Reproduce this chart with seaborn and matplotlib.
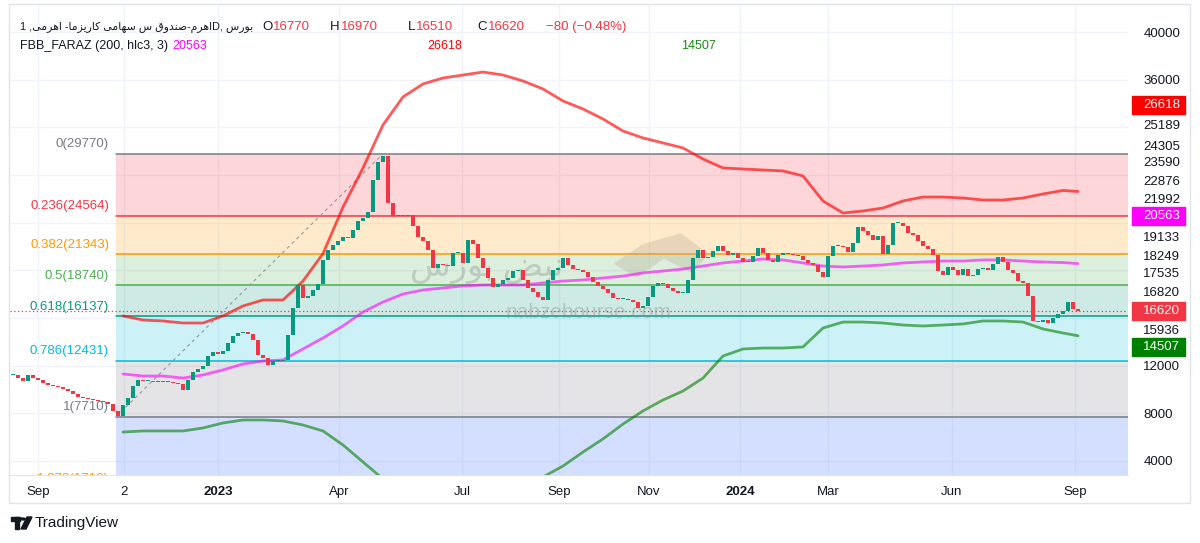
"""
Daily candles of the leveraged fund with a fibonacci retracement and the
FBB_FARAZ (200, hlc3, 3) bands, TradingView style.
"""
import matplotlib
matplotlib.use('Agg')
import matplotlib.pyplot as plt
import matplotlib.transforms as mtransforms
from matplotlib.patches import Rectangle, Polygon, Circle
import numpy as np
import pandas as pd
import seaborn as sns

# daily closes, one per bar
closes = [
    11220, 10960, 10710, 11220, 10960, 10800, 10550, 10380, 10290, 10210,
    10040, 9870, 9620, 9370, 9290, 9200, 9120, 9030, 8950, 8780,
    8200, 7760, 8700, 9290, 10290, 10800, 10710, 10710, 10630, 10710,
    10630, 10630, 10550, 10460, 9960, 10800, 11470, 11720, 11970, 12810,
    13150, 12980, 13230, 13900, 14490, 14740, 14830, 14660, 14150, 12890,
    12640, 12060, 12390, 12390, 12480, 14570, 16840, 18770, 17680, 17850,
    18350, 18850, 20870, 21710, 22130, 22460, 22800, 22710, 23380, 24140,
    24390, 24900, 27580, 29090, 29600, 25650, 24560, 24560, 24560, 24640,
    23720, 22800, 22460, 21710, 20200, 20530, 20450, 20360, 21450, 21450,
    20620, 22550, 22210, 21040, 20200, 19360, 18600, 18850, 19190, 19360,
    19940, 20030, 19190, 18520, 18180, 17760, 17510, 19190, 20030, 20200,
    21040, 20450, 20110, 20030, 19860, 19440, 19020, 18690, 18430, 18100,
    17680, 17590, 17590, 17510, 17340, 16840, 17010, 17760, 18690, 18940,
    18850, 18520, 18270, 18100, 18100, 19190, 21040, 21710, 21040, 21120,
    21620, 22040, 21620, 21290, 21450, 21040, 20700, 20700, 21200, 21870,
    21450, 20870, 20700, 21290, 21450, 21370, 21290, 21200, 20870, 20620,
    20450, 19860, 19440, 21200, 22040, 22040, 21960, 21540, 22290, 23640,
    23300, 22970, 22550, 22880, 21370, 22130, 23970, 23970, 23720, 23130,
    22970, 22460, 22040, 21790, 21290, 19940, 19610, 20280, 20030, 19610,
    20110, 19520, 19610, 20110, 20200, 20030, 20530, 21120, 20700, 20030,
    19780, 19100, 18940, 17850, 15750, 15660, 15830, 15580, 16000, 16340,
    16590, 17340, 16770, 16620,
]

# FBB_FARAZ bands, every 4th bar from bar 22 plus the last bar
band_bars = list(range(22, 211, 4)) + [213]
upper = [16170, 15830, 15750, 15580, 15580, 16170, 17010, 17510, 17510, 19100,
         21400, 25310, 28590, 32200, 34550, 35640, 36140, 36390, 36640, 36390,
         35890, 35220, 34210, 33540, 32700, 31690, 31110, 30690, 30270, 29340,
         28590, 28500, 28420, 28340, 27920, 25820, 24810, 24980, 25230, 25820,
         26150, 26150, 26070, 25900, 25900, 26070, 26410, 26700, 26618]
middle = [11300, 11130, 11130, 10960, 11220, 11640, 12140, 12390, 12480, 13400,
          14320, 15330, 16500, 17340, 18010, 18350, 18520, 18690, 18770, 18770,
          18770, 18940, 19100, 19190, 19360, 19520, 19780, 19940, 20110, 20360,
          20620, 20780, 20950, 20870, 20620, 20360, 20280, 20360, 20450, 20620,
          20700, 20780, 20780, 20870, 20870, 20780, 20700, 20650, 20563]
lower = [6430, 6520, 6520, 6520, 6770, 7190, 7440, 7440, 7360, 7020,
         6520, 5340, 3920, 2490, 1480, 1060, 890, 980, 890, 1150,
         1650, 2660, 3580, 4750, 5850, 7100, 8200, 9120, 9870, 10960,
         12810, 13400, 13480, 13480, 13570, 15160, 15660, 15660, 15580, 15410,
         15330, 15410, 15500, 15750, 15750, 15660, 15080, 14740, 14507]

# fibonacci retracement
fib_ratios = ['0', '0.236', '0.382', '0.5', '0.618', '0.786', '1', '1.272']
fib_values = [29770, 24564, 21343, 18740, 16137, 12431, 7710, 1710]
fib_colors = ['#787b86', '#f23645', '#ff9800', '#4caf50', '#089981', '#00bcd4',
              '#787b86', '#ff9800']
fib_fill = ['#787b86', '#f23645', '#ff9800', '#4caf50', '#089981', '#00bcd4',
            '#787b86', '#2962ff']

x_ticks = [5.0, 22.2, 41.0, 65.2, 89.8, 109.2, 127.2, 145.4, 163.0, 187.8, 212.4]
x_labels = ['Sep', '2', '2023', 'Apr', 'Jul', 'Sep', 'Nov', '2024', 'Mar', 'Jun', 'Sep']

y_ticks = [40000, 36000, 32196, 30517, 29091, 27497, 25986, 22880, 21286,
           19776, 18265, 15076, 12000, 8000, 4000]
y_labels = ['40000', '36000', '25189', '24305', '23590', '22876', '21992', '19133',
            '18249', '17535', '16820', '15936', '12000', '8000', '4000']

# coloured price boxes on the scale: (text, position, colour)
boxes = [('26618', 33875, '#ff0000'), ('20563', 24559, '#ff00ff'),
         ('16620', 16587, '#f23645'), ('14507', 13566, '#008000')]

last_close = 16620

# ---- tiny arabic shaper (matplotlib draws glyphs left to right, unshaped)
FORMS = {
    'ا': '\uFE8D\uFE8E', 'د': '\uFEA9\uFEAA', 'ر': '\uFEAD\uFEAE',
    'ز': '\uFEAF\uFEB0', 'و': '\uFEED\uFEEE',
    'ب': '\uFE8F\uFE90\uFE91\uFE92', 'س': '\uFEB1\uFEB2\uFEB3\uFEB4',
    'ص': '\uFEB9\uFEBA\uFEBB\uFEBC', 'ض': '\uFEBD\uFEBE\uFEBF\uFEC0',
    'ق': '\uFED5\uFED6\uFED7\uFED8', 'م': '\uFEE1\uFEE2\uFEE3\uFEE4',
    'ن': '\uFEE5\uFEE6\uFEE7\uFEE8', 'ه': '\uFEE9\uFEEA\uFEEB\uFEEC',
    'ی': '\uFBFC\uFBFD\uFBFE\uFBFF', 'ک': '\uFB8E\uFB8F\uFB90\uFB91',
}


def rtl(text):
    out = []
    for k, ch in enumerate(text):
        f = FORMS.get(ch)
        if f is None:
            out.append(ch)
            continue
        prev = text[k - 1] if k > 0 else ''
        nxt = text[k + 1] if k + 1 < len(text) else ''
        jp = prev in FORMS and len(FORMS[prev]) == 4
        jn = len(f) == 4 and nxt in FORMS
        out.append(f[3] if jp and jn else f[1] if jp else f[2] if jn else f[0])
    return ''.join(reversed(out))


sns.set_style('white')
plt.rcParams['font.family'] = ['Liberation Sans', 'DejaVu Sans']

W, H = 1200, 543
fx = lambda px: px / W
fy = lambda py: 1 - py / H

fig = plt.figure(figsize=(12, 5.43), dpi=100)
ax = fig.add_axes([fx(10), fy(475), fx(1128) - fx(10), fy(5) - fy(475)])
ax.set_xlim(-0.6, 223)
ax.set_ylim(2824, 42266)

# grid
for v in range(4000, 40001, 4000):
    ax.axhline(v, color='#f0f3fa', lw=1, zorder=0)
for xt in x_ticks:
    ax.axvline(xt, color='#f0f3fa', lw=1, zorder=0)

# fibonacci zones
fib_start = 20.6
xs = [fib_start, 223]
for k in range(len(fib_values) - 1):
    ax.fill_between(xs, fib_values[k + 1], fib_values[k], color=fib_fill[k + 1],
                    alpha=0.2, lw=0, zorder=1)
for r, v, c in zip(fib_ratios, fib_values, fib_colors):
    ax.plot(xs, [v, v], color=c, lw=1.1, zorder=2)
    ax.annotate(f'{r}({v})', xy=(fib_start, v), xytext=(-5, 2.5),
                textcoords='offset points', ha='right', va='bottom',
                color=c, fontsize=9.5, annotation_clip=False, clip_on=True)
ax.plot([fib_start, 74], [fib_values[-2], fib_values[0]], color='#9598a1',
        lw=0.8, ls=(0, (3, 3)), zorder=2)

# watermark (behind the price)
ax.text(0.495, 0.44, rtl('نبض بورس'), transform=ax.transAxes, fontsize=24,
        color='#8a8a8a', alpha=0.35, ha='right', va='center', zorder=2.5)
ax.text(0.443, 0.345, 'nabzebourse.com', transform=ax.transAxes, fontsize=15,
        color='#8a8a8a', alpha=0.4, ha='left', va='center', zorder=2.5)
ax.add_patch(Polygon([[0.54, 0.45], [0.565, 0.49], [0.6, 0.515], [0.625, 0.47],
                      [0.61, 0.43], [0.585, 0.46], [0.56, 0.42]],
                     closed=True, transform=ax.transAxes, color='#b5a48c',
                     alpha=0.3, lw=0, zorder=2.5))

# candles
bars = np.arange(len(closes))
cl = np.array(closes, dtype=float)
op = np.concatenate([[cl[0]], cl[:-1]])
body_lo = np.minimum(op, cl)
body_h = np.maximum(np.abs(cl - op), 110)
col = np.where(cl >= op, '#089981', '#f23645')
ax.bar(bars, body_h, bottom=body_lo, width=0.72, color=col, lw=0, zorder=4)

# bands
bands = pd.DataFrame({'bar': band_bars, 'upper': upper, 'middle': middle,
                      'lower': lower})
sns.lineplot(data=bands, x='bar', y='upper', ax=ax, color='#ff0000', lw=2,
             alpha=0.65, zorder=3)
sns.lineplot(data=bands, x='bar', y='middle', ax=ax, color='#ff00ff', lw=2,
             alpha=0.6, zorder=3)
sns.lineplot(data=bands, x='bar', y='lower', ax=ax, color='#008000', lw=2,
             alpha=0.6, zorder=3)

ax.axhline(last_close, color='#f23645', lw=0.9, ls=(0, (1, 2)), zorder=5)

# axes cosmetics
ax.set_xlabel('')
ax.set_ylabel('')
ax.set_xticks(x_ticks, x_labels)
for t in ax.get_xticklabels():
    if t.get_text() in ('2023', '2024'):
        t.set_fontweight('bold')
ax.tick_params(axis='x', length=0, pad=8, labelsize=9.5, labelcolor='#131722')
ax.yaxis.tick_right()
ax.set_yticks(y_ticks, y_labels)
ax.tick_params(axis='y', length=0, pad=11, labelsize=9.5, labelcolor='#131722')
for side in ['top', 'left', 'right']:
    ax.spines[side].set_visible(False)
ax.spines['bottom'].set_color('#e0e3eb')

trans = mtransforms.blended_transform_factory(ax.transAxes, ax.transData)
for txt, v, c in boxes:
    ax.add_patch(Rectangle((1.0036, v - 760), 0.0474, 1520, transform=trans,
                           color=c, clip_on=False, zorder=10))
    ax.text(1.0134, v, txt, transform=trans, color='white', fontsize=9.5,
            va='center', ha='left', clip_on=False, zorder=11)

# outer frame
fig.add_artist(Rectangle((fx(9), fy(503)), fx(1190) - fx(9), fy(4) - fy(503),
                         transform=fig.transFigure, fill=False,
                         edgecolor='#e0e3eb', lw=1))

# legend lines
dark = '#131722'
fig.text(fx(20), fy(27), '1 ,' + rtl('اهرم-صندوق س سهامی کاریزما- اهرمی') + 'D, '
         + rtl('بورس'), fontsize=7.8, color=dark, va='center')
for xp, s, c in [(262, 'O', dark), (273, '16770', '#f23645'),
                 (330, 'H', dark), (341, '16970', '#f23645'),
                 (408, 'L', dark), (416, '16510', '#f23645'),
                 (477, 'C', dark), (488, '16620', '#f23645'),
                 (546, '\u221280 (\u22120.48%)', '#f23645')]:
    fig.text(fx(xp), fy(27), s, fontsize=9.5, color=c, va='center')
for xp, s, c in [(20, 'FBB_FARAZ (200, hlc3, 3)', dark), (172, '20563', '#ff00ff'),
                 (427, '26618', '#ff0000'), (681, '14507', '#1a8a1a')]:
    fig.text(fx(xp), fy(46), s, fontsize=9, color=c, va='center')

# TradingView logo
fig.add_artist(Rectangle((fx(11), fy(521)), fx(9) - fx(0), fy(517) - fy(521),
                         transform=fig.transFigure, color=dark))
fig.add_artist(Rectangle((fx(15), fy(529)), fx(4) - fx(0), fy(517) - fy(529),
                         transform=fig.transFigure, color=dark))
fig.add_artist(Circle((fx(23), fy(519)), 2.2 / W, transform=fig.transFigure,
                      color=dark))
fig.add_artist(Polygon([[fx(27), fy(517)], [fx(32), fy(517)], [fx(26), fy(529)],
                        [fx(21), fy(529)]], closed=True,
                       transform=fig.transFigure, color=dark))
fig.text(fx(35), fy(523), 'TradingView', fontsize=11, color=dark, va='center')

fig.savefig('out.png', dpi=100)
